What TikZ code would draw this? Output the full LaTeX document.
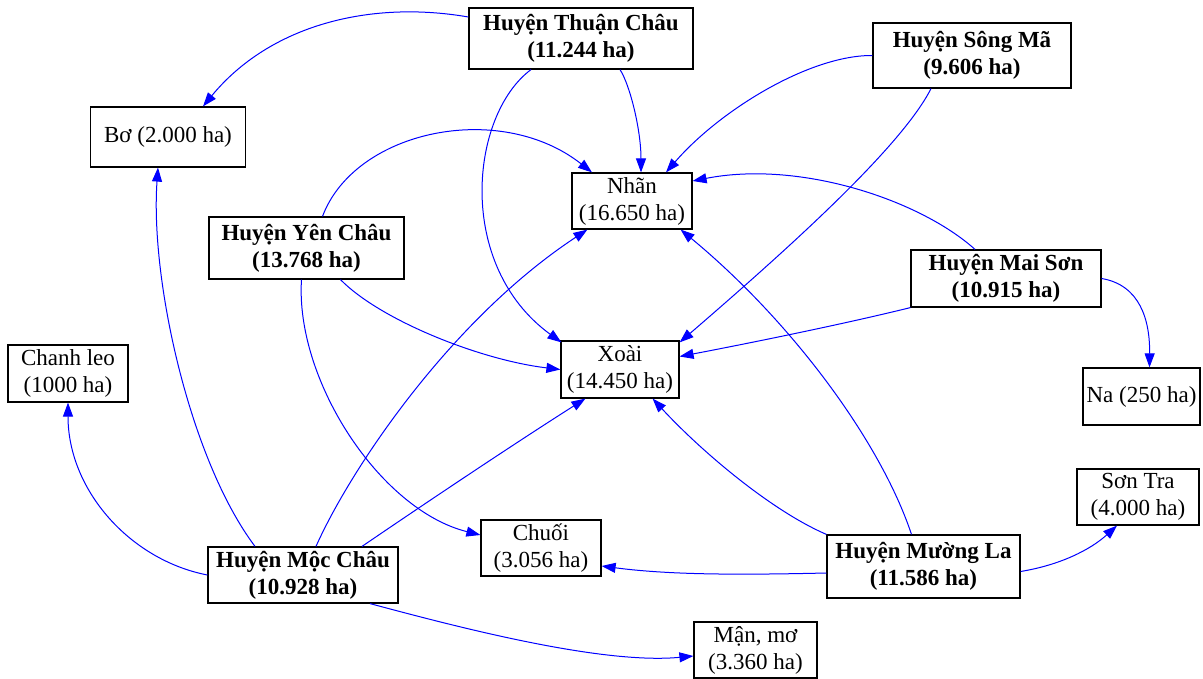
\documentclass[tikz,border=0pt]{standalone}
\usepackage{fontspec}
\setmainfont{Liberation Serif}
\usetikzlibrary{arrows.meta}
\begin{document}
\begin{tikzpicture}[x=1pt,y=-1pt,
  box/.style={draw=black, line width=1.2pt, fill=white, inner sep=0pt, align=center, font=\fontsize{23}{27}\selectfont},
  dist/.style={box, font=\fontsize{23}{27}\selectfont\bfseries},
  link/.style={draw=blue, line width=1pt, -{Triangle[length=14pt,width=10pt]}}]
\useasboundingbox[fill=white] (0,0) rectangle (1203,679);
% nodes
\node[dist, minimum width=224pt, minimum height=61pt] (tc) at (581,38.5) {Huyện Thuận Châu\\(11.244 ha)};
\node[dist, minimum width=198pt, minimum height=65pt] (sm) at (972,55.5) {Huyện Sông Mã\\(9.606 ha)};
\node[dist, minimum width=195pt, minimum height=62pt] (yc) at (306.5,248) {Huyện Yên Châu\\(13.768 ha)};
\node[dist, minimum width=190pt, minimum height=57pt] (ms) at (1006,278.5) {Huyện Mai Sơn\\(10.915 ha)};
\node[dist, minimum width=190pt, minimum height=56pt] (mc) at (303,575) {Huyện Mộc Châu\\(10.928 ha)};
\node[dist, minimum width=193pt, minimum height=63pt] (ml) at (923.5,566.5) {Huyện Mường La\\(11.586 ha)};
\node[box, minimum width=155pt, minimum height=60pt] (bo) at (168,137) {Bơ (2.000 ha)};
\node[box, minimum width=120pt, minimum height=56pt] (nhan) at (632,201) {Nhãn\\(16.650 ha)};
\node[box, minimum width=118pt, minimum height=57pt] (xoai) at (620,369.5) {Xoài\\(14.450 ha)};
\node[box, minimum width=120pt, minimum height=57pt] (chanh) at (68,373.5) {Chanh leo\\(1000 ha)};
\node[box, minimum width=117pt, minimum height=57pt] (na) at (1141.5,396.5) {Na (250 ha)};
\node[box, minimum width=120pt, minimum height=56pt] (chuoi) at (541,548) {Chuối\\(3.056 ha)};
\node[box, minimum width=122pt, minimum height=56pt] (sontra) at (1138,497) {Sơn Tra\\(4.000 ha)};
\node[box, minimum width=123pt, minimum height=56pt] (man) at (755.5,650) {Mận, mơ\\(3.360 ha)};
% edges
\draw[link] ([yshift=21.5pt]tc.west) .. controls (370,0) and (270,25) .. ([xshift=35pt]bo.north);
\draw[link] ([xshift=39pt]tc.south) .. controls (630,85) and (641,130) .. ([xshift=9pt]nhan.north);
\draw[link] ([xshift=-50pt]tc.south) .. controls (470,115) and (455,265) .. ([xshift=1pt,yshift=-2pt]xoai.north west);
\draw[link] (sm.west) .. controls (810,55) and (720,110) .. ([xshift=34pt]nhan.north);
\draw[link] ([xshift=-41pt]sm.south) .. controls (900,150) and (775,260) .. ([yshift=-2pt]xoai.north east);
\draw[link] ([xshift=16pt]yc.north) .. controls (355,130) and (500,100) .. ([xshift=-40pt]nhan.north);
\draw[link] ([xshift=34pt]yc.south) .. controls (380,320) and (480,360) .. (xoai.west);
\draw[link] ([xshift=-5pt]yc.south) .. controls (295,380) and (380,510) .. ([yshift=13pt]chuoi.west);
\draw[link] ([xshift=-31pt]ms.north) .. controls (920,200) and (800,160) .. ([yshift=20pt]nhan.east);
\draw[link] (ms.south west) .. controls (840,325) and (740,345) .. ([yshift=13pt]xoai.east);
\draw[link] (ms.east) .. controls (1140,285) and (1150,320) .. ([xshift=8pt]na.north);
\draw[link] (mc.west) .. controls (130,560) and (68,490) .. (chanh.south);
\draw[link] ([xshift=-48pt]mc.north) .. controls (190,460) and (150,280) .. ([xshift=-10pt]bo.south);
\draw[link] ([xshift=13pt]mc.north) .. controls (350,470) and (450,320) .. ([xshift=16pt]nhan.south west);
\draw[link] ([xshift=59pt]mc.north) .. controls (430,500) and (520,440) .. ([xshift=25pt]xoai.south west);
\draw[link] ([xshift=67pt]mc.south) .. controls (450,625) and (600,665) .. ([yshift=-6pt]man.west);
\draw[link] ([yshift=-6.5pt]ml.west) .. controls (740,575) and (670,575) .. ([yshift=-18pt]chuoi.east);
\draw[link] (ml.north west) .. controls (770,510) and (700,450) .. ([xshift=-27pt]xoai.south east);
\draw[link] ([xshift=-12pt]ml.north) .. controls (880,440) and (790,320) .. ([xshift=-12pt]nhan.south east);
\draw[link] ([yshift=-5pt]ml.east) .. controls (1060,565) and (1090,550) .. ([xshift=-21pt]sontra.south);
\end{tikzpicture}
\end{document}
